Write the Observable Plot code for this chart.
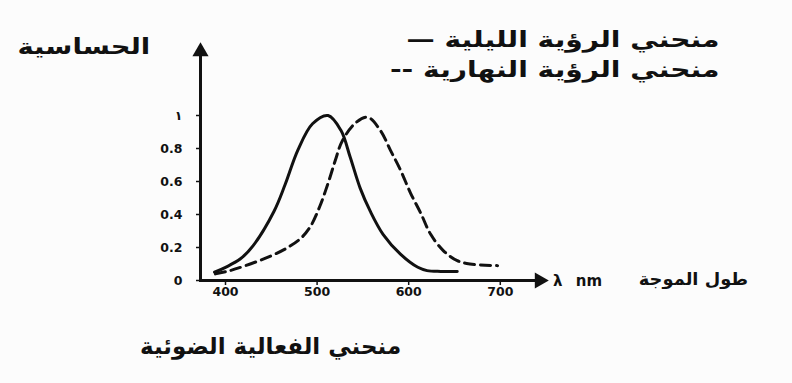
<!DOCTYPE html>
<html>
<head>
<meta charset="utf-8">
<script src="https://cdn.jsdelivr.net/npm/d3@7"></script>
<script src="https://cdn.jsdelivr.net/npm/@observablehq/plot@0.6"></script>
<style>
  html, body { margin: 0; padding: 0; background: #fcfcfc; }
  #wrap { position: relative; width: 792px; height: 383px; overflow: hidden; font-family: "DejaVu Sans", sans-serif; color: #111; }
  .lbl { position: absolute; font-weight: bold; white-space: nowrap; }
  .rtl { direction: rtl; }
</style>
</head>
<body>
<div id="wrap"></div>
<script>
// Data
const scotopicNm  = [388, 400, 416, 430, 453, 465, 479, 495, 512, 526, 536, 547, 558, 572, 591, 610, 620, 635, 653];
const scotopicVal = [0.05, 0.08, 0.13, 0.21, 0.42, 0.58, 0.79, 0.95, 1.0, 0.91, 0.75, 0.56, 0.42, 0.28, 0.16, 0.08, 0.06, 0.055, 0.055];
const photopicNm  = [389, 405, 427, 450, 468, 483, 493, 503, 512, 520, 527, 541, 555, 569, 580, 591, 602, 613, 624, 638, 653, 667, 697];
const photopicVal = [0.04, 0.06, 0.10, 0.15, 0.20, 0.26, 0.33, 0.45, 0.59, 0.73, 0.84, 0.95, 0.99, 0.91, 0.79, 0.67, 0.53, 0.41, 0.28, 0.18, 0.12, 0.10, 0.09];
const xTicks = [400, 500, 600, 700];
const yTicks = [0, 0.2, 0.4, 0.6, 0.8, 1];
const yTickLabels = ["0", "0.2", "0.4", "0.6", "0.8", "١"];
const yTitle = "الحساسية";
const legendNight = "منحني الرؤية الليلية —";
const legendDay = "منحني الرؤية النهارية --";
const xUnit = "λ nm";
const xTitle = "طول الموجة";
const chartTitle = "منحني الفعالية الضوئية";

const scot = scotopicNm.map((x, i) => ({x, y: scotopicVal[i]}));
const phot = photopicNm.map((x, i) => ({x, y: photopicVal[i]}));

const plot = Plot.plot({
  width: 792,
  height: 320,
  marginLeft: 200,
  marginRight: 251,
  marginTop: 49,
  marginBottom: 40,
  style: {background: "transparent", fontFamily: "DejaVu Sans, sans-serif", fontWeight: "bold", color: "#111"},
  x: {domain: [372.7, 745]},
  y: {domain: [0, 1.4]},
  marks: [
    Plot.axisX({ticks: xTicks, tickSize: 5, tickPadding: 2, fontSize: 12.5, label: null, stroke: "#111", strokeWidth: 1.5}),
    Plot.axisY({ticks: yTicks, tickFormat: (d) => yTickLabels[yTicks.indexOf(d)], tickSize: 4, tickPadding: 14, fontSize: 12.5, label: null, stroke: "#111", strokeWidth: 1.5}),
    Plot.frame({anchor: "left", stroke: "#111", strokeWidth: 3}),
    Plot.frame({anchor: "bottom", stroke: "#111", strokeWidth: 3}),
    Plot.dot([0], {frameAnchor: "top-left", symbol: "triangle", r: 6, fill: "#111", stroke: "none", dy: 2}),
    Plot.dot([0], {frameAnchor: "bottom-right", symbol: "triangle", r: 6, fill: "#111", stroke: "none", rotate: 90, dx: -2}),
    Plot.line(scot, {x: "x", y: "y", curve: "catmull-rom", stroke: "#111", strokeWidth: 3}),
    Plot.line(phot, {x: "x", y: "y", curve: "catmull-rom", stroke: "#111", strokeWidth: 3, strokeDasharray: "10,6"})
  ]
});

const wrap = document.getElementById("wrap");
wrap.appendChild(plot);

function addLabel(text, css, rtl, sx) {
  const d = document.createElement("div");
  d.className = "lbl" + (rtl ? " rtl" : "");
  d.textContent = text;
  Object.assign(d.style, css);
  if (sx) { d.style.transform = "scaleX(" + sx + ")"; d.style.transformOrigin = rtl ? "right center" : "left center"; }
  wrap.appendChild(d);
}
addLabel(yTitle, {right: "642px", top: "34px", fontSize: "22px"}, true, 1.25);
addLabel(legendNight, {right: "72px", top: "27px", fontSize: "22px"}, true, 1.28);
addLabel(legendDay, {right: "72px", top: "57px", fontSize: "22px"}, true, 1.28);
addLabel(xUnit, {left: "553px", top: "272px", fontSize: "15px", wordSpacing: "8px"}, false);
addLabel(xTitle, {right: "44px", top: "269px", fontSize: "17px"}, true, 1.05);
addLabel(chartTitle, {left: "140px", top: "333px", fontSize: "23px"}, true);
</script>
</body>
</html>
